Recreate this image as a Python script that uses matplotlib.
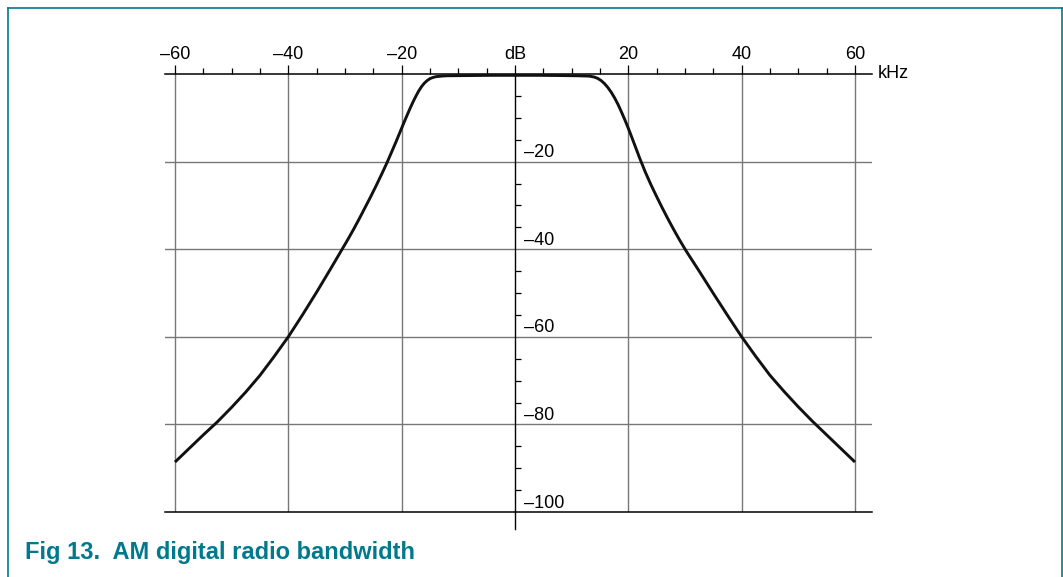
import matplotlib
matplotlib.use("Agg")
import matplotlib.pyplot as plt
from matplotlib.lines import Line2D
from matplotlib.transforms import offset_copy

plt.rcParams['font.family'] = ['Liberation Sans', 'DejaVu Sans']

# response (kHz, dB)
freq_khz = [-60, -57.5, -55, -52.5, -50, -47.5, -45, -42.5, -40, -37.5, -35, -32.5,
            -30.5, -29.5, -28.5, -27.5, -26.5, -25.5, -24.5, -23.5, -22.6, -21.8,
            -21, -20.3, -19.5, -19, -18.5, -18, -17.5, -17, -16.5, -16, -15.5, -15,
            -14.5, -14, -13, -12, -8, -4, 0, 4, 8, 11, 12.5, 13.2, 14, 14.6, 15.2,
            15.8, 16.4, 17, 17.6, 18.2, 18.8, 19.4, 20, 20.6, 21.3, 22, 23, 24, 25,
            26, 27, 28, 29, 30.2, 32.5, 35, 37.5, 40, 42.5, 45, 47.5, 50, 52.5, 55,
            57.5, 60]
level_db = [-88.6, -85.5, -82.4, -79.4, -76.1, -72.6, -68.8, -64.5, -60, -55.0, -49.8,
            -44.4, -40, -37.8, -35.5, -33.1, -30.6, -28.1, -25.5, -22.8, -20.3, -17.9,
            -15.5, -13.3, -10.8, -9.3, -7.8, -6.4, -5.1, -3.9, -2.9, -2.1, -1.5, -1.05,
            -0.8, -0.62, -0.48, -0.4, -0.35, -0.3, -0.3, -0.3, -0.35, -0.4, -0.45,
            -0.5, -0.7, -1.0, -1.5, -2.2, -3.1, -4.2, -5.5, -7.0, -8.7, -10.5, -12.4,
            -14.4, -16.8, -19.2, -22.4, -25.3, -28.0, -30.6, -33.1, -35.5, -37.8,
            -40.4, -45.0, -50.1, -55.1, -60, -64.5, -68.8, -72.5, -76.0, -79.3,
            -82.4, -85.5, -88.6]

x_major = [-60, -40, -20, 0, 20, 40, 60]
x_labels = ['\u201360', '\u201340', '\u201320', 'dB', '20', '40', '60']
x_minor = [-55, -50, -45, -35, -30, -25, -15, -10, -5, 5, 10, 15, 25, 30, 35, 45, 50, 55]
y_grid = [-20, -40, -60, -80]
y_labels = ['\u201320', '\u201340', '\u201360', '\u201380', '\u2013100']
y_label_pos = [-20, -40, -60, -80, -100]
y_minor = [-5, -10, -15, -25, -30, -35, -45, -50, -55, -65, -70, -75, -85, -90, -95]

teal = '#00798c'
grid_col = '#777777'

fig = plt.figure(figsize=(10.63, 5.77), dpi=100)
ax = fig.add_axes([165 / 1063, 1 - 512 / 577, 707 / 1063, 438 / 577])
ax.set_xlim(-61.76, 63.0)
ax.set_ylim(-100, 0)

# frame
for s in ['left', 'right']:
    ax.spines[s].set_visible(False)
ax.spines['top'].set_linewidth(1.1)
ax.spines['bottom'].set_linewidth(1.1)
ax.spines['left'].set_position(('data', 0))

# grid
for x in [-60, -40, -20, 20, 40, 60]:
    ax.axvline(x, color=grid_col, lw=1.0, zorder=1)
for y in y_grid:
    ax.axhline(y, color=grid_col, lw=1.0, zorder=1)

# centre dB axis
ax.plot([0, 0], [0, -103.8], color='black', lw=1.0, clip_on=False, zorder=2)

# x ticks on top
ax.xaxis.tick_top()
ax.set_xticks(x_major)
ax.set_xticklabels(x_labels)
ax.set_xticks(x_minor, minor=True)
ax.tick_params(axis='x', which='major', direction='out', length=6.5, width=0.9,
               pad=1.5, labelsize=13, colors='black')
ax.tick_params(axis='x', which='minor', direction='out', length=4.3, width=0.9)

# y ticks on the centre axis, pointing right
ax.set_yticks([])
ax.set_yticks(y_minor, minor=True)
ax.tick_params(axis='y', which='minor', direction='in', length=4.3, width=0.9,
               left=True, right=False)
ax.tick_params(axis='y', which='major', left=False, labelleft=False)

lab_tr = offset_copy(ax.transData, fig=fig, x=9, y=4.4, units='dots')
for y, t in zip(y_label_pos, y_labels):
    ax.text(0, y, t, transform=lab_tr, fontsize=13, ha='left', va='baseline')

khz_tr = offset_copy(ax.transAxes, fig=fig, x=6, y=-4.5, units='dots')
ax.text(1.0, 1.0, 'kHz', transform=khz_tr, fontsize=13, ha='left', va='baseline')

ax.plot(freq_khz, level_db, color='#111111', lw=2.1, solid_capstyle='butt',
        solid_joinstyle='round', zorder=3)

# teal page frame and caption
fig.add_artist(Line2D([8 / 1063, 8 / 1063], [0, 1 - 8 / 577], color=teal, lw=1.2))
fig.add_artist(Line2D([1061.5 / 1063, 1061.5 / 1063], [0, 1 - 8 / 577], color=teal, lw=1.2))
fig.add_artist(Line2D([8 / 1063, 1061.5 / 1063], [1 - 8 / 577, 1 - 8 / 577], color=teal, lw=1.2))
fig.text(25 / 1063, 1 - 559 / 577, 'Fig 13.  AM digital radio bandwidth', color=teal,
         fontsize=17, fontweight='bold', ha='left', va='baseline')

fig.savefig('out.png', dpi=100)
